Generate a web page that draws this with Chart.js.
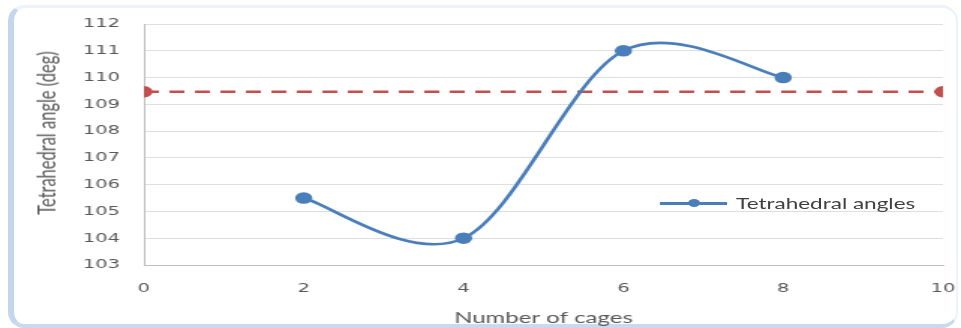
<!DOCTYPE html>
<html><head><meta charset="utf-8">
<script src="https://cdn.jsdelivr.net/npm/chart.js@4/dist/chart.umd.min.js"></script>
<style>
html,body{margin:0;padding:0;background:#fff;width:961px;height:328px;overflow:hidden;}
#frame{position:absolute;left:8px;top:5px;width:942px;height:316px;border-radius:16px;
 border-top:3px solid #eef3f9;border-right:2px solid #eef3f9;border-left:6px solid #c3d6ee;border-bottom:4px solid #c9daef;box-sizing:content-box;}
#wrap{position:absolute;left:0;top:0;width:641px;height:328px;transform-origin:0 0;transform:scaleX(1.4992);}
#legend{position:absolute;left:440px;top:194px;height:18px;font-family:Lato,sans-serif;font-size:15px;color:#404040;white-space:nowrap;}
#legend .ln{position:absolute;left:0;top:8px;width:45px;height:2.5px;background:#4a7ebb;}
#legend .dt{position:absolute;left:19px;top:5px;width:8px;height:8px;border-radius:50%;background:#4a7ebb;}
#legend .tx{position:absolute;left:51px;top:0px;line-height:18px;}
#ytitle{position:absolute;left:31px;top:133px;transform:translate(-50%,-50%) rotate(-90deg);font-family:Lato,sans-serif;font-size:16.5px;color:#595959;white-space:nowrap;line-height:18px;}
</style></head>
<body>
<div id="frame"></div>
<div id="wrap"><canvas id="c"></canvas>
<div id="legend"><span class="ln"></span><span class="dt"></span><span class="tx" id="legtext"></span></div>
<div id="ytitle"></div>
</div>
<script>
const cages = [2, 4, 6, 8];
const angles = [105.5, 104.0, 111.0, 110.0];
const refX = [0, 10];
const refAngle = [109.47, 109.47];
const xTicks = [0, 2, 4, 6, 8, 10];
const yTicks = [103, 104, 105, 106, 107, 108, 109, 110, 111, 112];
const seriesName = 'Tetrahedral angles';
const xTitle = 'Number of cages';
const yTitle = 'Tetrahedral angle (deg)';

document.getElementById('legtext').textContent = seriesName;
document.getElementById('ytitle').textContent = yTitle;

// Excel-like smoothing: uniform Catmull-Rom control points (1/6 of neighbour chord)
const excelSmooth = {
  id: 'excelSmooth',
  beforeDatasetsDraw(chart) {
    const meta = chart.getDatasetMeta(0);
    const line = meta.dataset;
    line.updateControlPoints(chart.chartArea, 'x');
    const pts = meta.data, n = pts.length;
    for (let i = 0; i < n; i++) {
      const p = pts[i], a = pts[Math.max(i - 1, 0)], b = pts[Math.min(i + 1, n - 1)];
      const dx = (b.x - a.x) / 6, dy = (b.y - a.y) / 6;
      p.cp1x = p.x - dx; p.cp1y = p.y - dy;
      p.cp2x = p.x + dx; p.cp2y = p.y + dy;
    }
    delete line._path;
  }
};

const tickFont = {family: 'DejaVu Sans', size: 13};
new Chart(document.getElementById('c'), {
  type: 'scatter',
  plugins: [excelSmooth],
  data: {
    datasets: [
      {label: seriesName, data: cages.map((x,i)=>({x, y: angles[i]})), showLine: true,
       borderColor: '#4a7ebb', backgroundColor: '#4a7ebb', borderWidth: 2.6, tension: 0.4,
       pointRadius: 4.5, pointHoverRadius: 4.5},
      {label: 'ref', data: refX.map((x,i)=>({x, y: refAngle[i]})), showLine: true,
       borderColor: '#c0504d', backgroundColor: '#c0504d', borderWidth: 2.4, borderDash: [10, 7],
       pointRadius: 4.5, pointHoverRadius: 4.5}
    ]
  },
  options: {
    responsive: true, maintainAspectRatio: false, animation: false,
    layout: {padding: {left: 20, top: 24, right: 12, bottom: 0}},
    plugins: {legend: {display: false}, tooltip: {enabled: false}},
    scales: {
      x: {type: 'linear', min: 0, max: 10,
        afterBuildTicks: s => { s.ticks = xTicks.map(v=>({value: v})); },
        afterFit: s => { s.height = 63; s.paddingRight = 0; s.paddingLeft = 0; },
        grid: {display: false, drawTicks: false},
        border: {color: '#bfbfbf', width: 1},
        ticks: {font: tickFont, color: '#595959', padding: 16, maxRotation: 0},
        title: {display: true, text: xTitle, font: {family: 'Lato', size: 16}, color: '#595959', padding: {top: 0, bottom: 1}}
      },
      y: {type: 'linear', min: 103, max: 112,
        afterBuildTicks: s => { s.ticks = yTicks.map(v=>({value: v})); },
        afterFit: s => { s.width = 76; },
        grid: {color: '#dedede', drawTicks: false},
        border: {color: '#bfbfbf', width: 1},
        ticks: {font: tickFont, color: '#595959', padding: 16},
        title: {display: false}
      }
    }
  }
});
</script>
</body></html>
